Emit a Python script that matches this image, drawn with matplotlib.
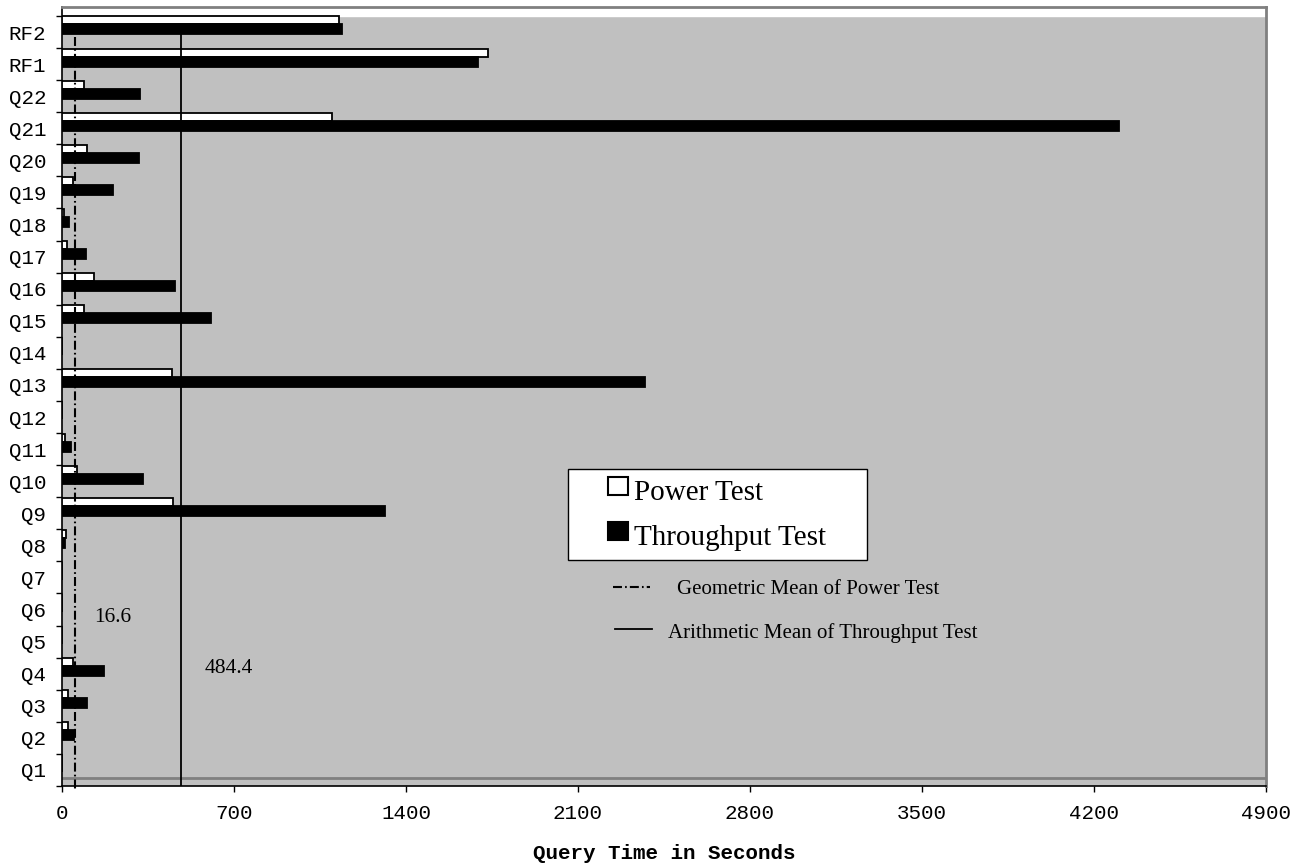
import matplotlib
matplotlib.use("Agg")
import matplotlib.pyplot as plt
from matplotlib.patches import Rectangle
from matplotlib.lines import Line2D
from matplotlib.ticker import MultipleLocator, FixedLocator

# data (seconds)
queries = ["Q1", "Q2", "Q3", "Q4", "Q5", "Q6", "Q7", "Q8", "Q9", "Q10", "Q11", "Q12",
           "Q13", "Q14", "Q15", "Q16", "Q17", "Q18", "Q19", "Q20", "Q21", "Q22", "RF1", "RF2"]
power_test = [0, 24, 24, 45, 0, 0, 0, 16, 452, 61, 12, 0,
              448, 0, 90, 130, 20, 8, 45, 102, 1099, 90, 1734, 1127]
throughput_test = [0, 49, 102, 171, 0, 0, 0, 12, 1316, 330, 37, 0,
                   2373, 0, 606, 460, 98, 27, 207, 313, 4300, 318, 1693, 1140]
geo_mean_power = 16.6
geo_mean_line_pos = 52   # where the dash-dot line is actually drawn
arith_mean_throughput = 484.4
series_names = ["Power Test", "Throughput Test"]
mean_names = ["Geometric Mean of Power Test", "Arithmetic Mean of Throughput Test"]

W, H = 1295, 863
def fx(x):
    return x / W
def fy(y):
    return 1 - y / H

grey = "#C0C0C0"
serif = "Liberation Serif"
mono = "Liberation Mono"
dashdot = (0, (4.3, 1.5, 0.8, 1.5))

fig = plt.figure(figsize=(W / 100, H / 100), dpi=100)
ax = fig.add_axes([fx(62), fy(786), fx(1266) - fx(62), fy(7) - fy(786)])
ax.set_facecolor(grey)

n = len(queries)
pos = list(range(n))
ax.barh([p + 0.36 for p in pos], power_test, height=0.25, color="white",
        edgecolor="black", linewidth=1.3, zorder=3)
ax.barh([p + 0.08 for p in pos], throughput_test, height=0.31, color="black",
        edgecolor="black", linewidth=1.3, zorder=3)

ax.set_xlim(0, 4900)
ax.set_ylim(-0.5, 23.78)
ax.axhspan(23.5, 23.78, color="white", zorder=1)
ax.axhline(-0.26, color="#808080", lw=2, zorder=1)

# mean lines
ax.vlines(arith_mean_throughput, -0.5, 22.96, color="black", lw=1.3, zorder=4)
ax.plot([geo_mean_line_pos, geo_mean_line_pos], [22.83, -0.66], color="black", lw=1.5,
        linestyle=dashdot, zorder=4, clip_on=False)

# axes styling
for side in ["left", "bottom"]:
    ax.spines[side].set_color("black")
    ax.spines[side].set_linewidth(1.2)
for side in ["top", "right"]:
    ax.spines[side].set_color("#808080")
    ax.spines[side].set_linewidth(2)

ax.xaxis.set_major_locator(MultipleLocator(700))
ax.tick_params(axis="x", direction="out", length=4.3, width=1, pad=9,
               labelsize=15, labelfontfamily=mono)
ax.set_yticks(pos)
ax.set_yticklabels(queries)
ax.yaxis.set_minor_locator(FixedLocator([p - 0.5 for p in range(n + 1)]))
ax.tick_params(axis="y", which="major", length=0, pad=11.5, labelsize=15,
               labelfontfamily=mono)
ax.tick_params(axis="y", which="minor", direction="out", length=4.3, width=1)
ax.set_xlabel("Query Time in Seconds", fontfamily=mono, fontweight="bold",
              fontsize=15, labelpad=15)

# value labels of the means
fig.text(fx(113), fy(617), str(geo_mean_power), fontfamily=serif, fontsize=15.5,
         ha="center", va="center")
fig.text(fx(229), fy(668), str(arith_mean_throughput), fontfamily=serif, fontsize=15.5,
         ha="center", va="center")

# legend box for the bars
fig.patches.append(Rectangle((fx(568), fy(560)), fx(867) - fx(568), fy(469) - fy(560),
                             transform=fig.transFigure, facecolor="white",
                             edgecolor="black", lw=1, zorder=5))
for k, (name, col) in enumerate(zip(series_names, ["white", "black"])):
    yc = 486 + k * 45
    fig.patches.append(Rectangle((fx(608), fy(yc + 9)), fx(20), fy(0) - fy(18),
                                 transform=fig.transFigure, facecolor=col,
                                 edgecolor="black", lw=1.5, zorder=6))
    fig.text(fx(634), fy(yc + 7), name, fontfamily=serif, fontsize=21,
             ha="left", va="center", zorder=6)

# line legend entries
fig.lines.append(Line2D([fx(613), fx(650)], [fy(587), fy(587)], transform=fig.transFigure,
                        color="black", lw=1.5, linestyle=dashdot))
fig.text(fx(677), fy(589), mean_names[0], fontfamily=serif, fontsize=15,
         ha="left", va="center")
fig.lines.append(Line2D([fx(615), fx(652)], [fy(629), fy(629)], transform=fig.transFigure,
                        color="black", lw=1.3))
fig.text(fx(668), fy(633), mean_names[1], fontfamily=serif, fontsize=15,
         ha="left", va="center")

fig.savefig("out.png", dpi=100)
